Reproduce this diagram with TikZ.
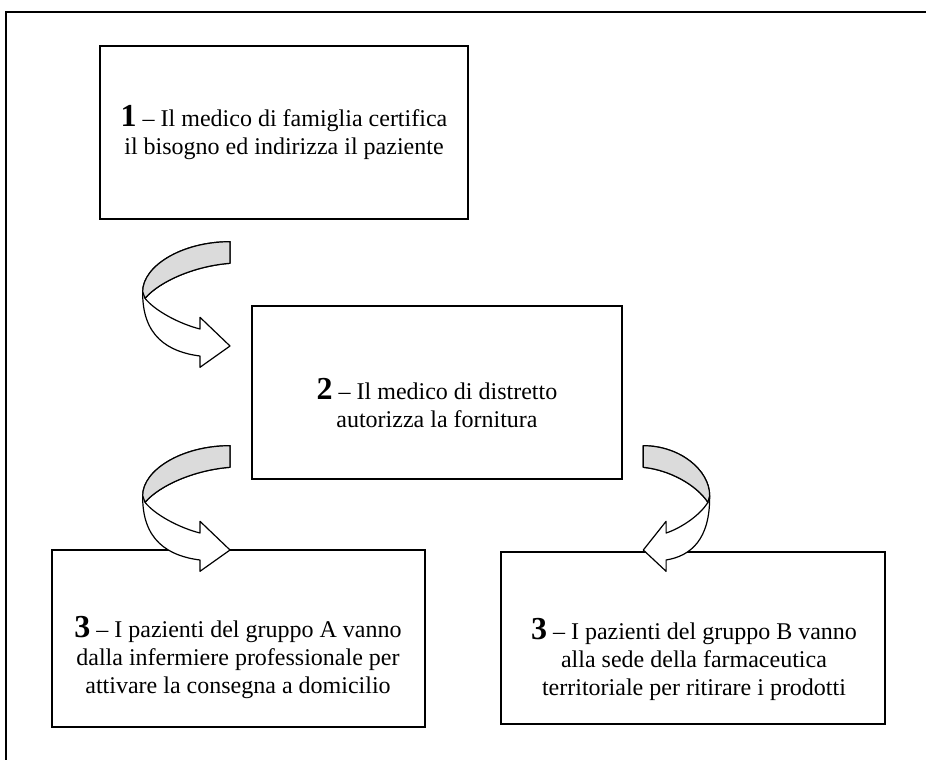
\documentclass[tikz,border=0pt]{standalone}
\usepackage{fontspec}
\setmainfont{Liberation Serif}
\newcommand{\stepnum}[1]{{\fontsize{32}{28}\selectfont\bfseries #1}}
\begin{document}
\begin{tikzpicture}[x=1pt,y=-1pt,
  box/.style={draw,line width=1.4pt,inner sep=0pt,outer sep=0pt},
  txt/.style={align=center,font=\fontsize{24}{28}\selectfont,inner sep=0pt},
  backpart/.style={fill=gray!28,draw,line width=1.2pt,line join=round},
  frontpart/.style={fill=white,draw,line width=1.2pt,line join=round},
  curvarrow/.pic={
    \path[frontpart] (0,-104.3) .. controls (-48,-104.3) and (-87.3,-80) .. (-87.3,-54.3)
      .. controls (-88,-10) and (-62,6) .. (-30,10) -- (-30,21.3) -- (0,0) -- (-30,-28.7) -- (-30,-17)
      .. controls (-50,-22) and (-75,-35) .. (-85,-47.7)
      .. controls (-70,-65) and (-35,-80) .. (0,-82.7) -- cycle;
    \path[backpart] (0,-104.3) .. controls (-48,-104.3) and (-87.3,-80) .. (-87.3,-54.3)
      -- (-85,-47.7) .. controls (-70,-65) and (-35,-80) .. (0,-82.7) -- cycle;
  }]
\useasboundingbox (0,0) rectangle (926,760);
% outer frame (cut at right and bottom)
\coordinate (fBL) at (6,760);
\coordinate (fTL) at (6,12);
\coordinate (fTR) at (926,12);
\draw[line width=1.4pt] (fBL) -- (fTL) -- (fTR);
% boxes
\node[box,minimum width=368pt,minimum height=173pt] (b1) at (284,132.5) {};
\node[box,minimum width=370pt,minimum height=173pt] (b2) at (437,392.5) {};
\node[box,minimum width=373pt,minimum height=177pt] (b3a) at (238.5,638.5) {};
\node[box,minimum width=384pt,minimum height=172pt] (b3b) at (693,638) {};
% texts
\node[txt] (t1) at (284,132.5) {\stepnum{1} \textendash{} Il medico di famiglia certifica\\il bisogno ed indirizza il paziente};
\node[txt] (t2) at (437,403) {\stepnum{2} \textendash{} Il medico di distretto\\autorizza la fornitura};
\node[txt] (t3a) at (238,657) {\stepnum{3} \textendash{} I pazienti del gruppo A vanno\\dalla infermiere professionale per\\attivare la consegna a domicilio};
\node[txt] (t3b) at (694,659) {\stepnum{3} \textendash{} I pazienti del gruppo B vanno\\alla sede della farmaceutica\\territoriale per ritirare i prodotti};
% curved arrows
\pic at (230,346) {curvarrow};
\pic at (230,550) {curvarrow};
\pic[xscale=-0.76] at (643.3,550) {curvarrow};
\end{tikzpicture}
\end{document}
